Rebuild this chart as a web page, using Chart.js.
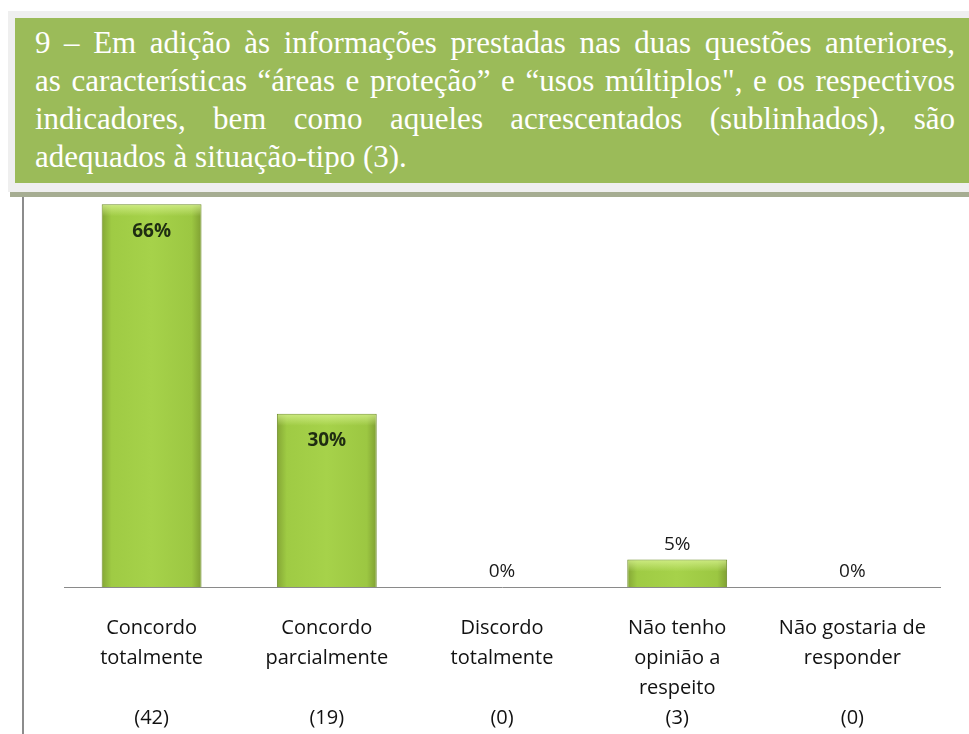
<!DOCTYPE html>
<html>
<head>
<meta charset="utf-8">
<script src="https://cdn.jsdelivr.net/npm/chart.js@4"></script>
<style>
  html, body { margin: 0; padding: 0; background: #fff; }
  body { width: 969px; height: 734px; position: relative; overflow: hidden; }
  #caixa { position: absolute; left: 8px; top: 11px; width: 980px; height: 181px; background: #efefef; }
  #verde { position: absolute; left: 15px; top: 18px; width: 980px; height: 165px; background: #9bbb59; }
  #faixa { position: absolute; left: 10px; top: 192px; width: 980px; height: 5px; background: #a6ad92; }
  #titulo { position: absolute; left: 35px; top: 24px; width: 920px; color: #fff;
    font-family: "Liberation Serif", "Times New Roman", serif; font-size: 31px; line-height: 38px; }
  #titulo span { display: block; text-align: justify; text-align-last: justify; white-space: nowrap; }
  #titulo span.ult { text-align-last: left; }
  #linha { position: absolute; left: 22px; top: 197px; width: 2px; height: 540px; background: #8c8c8c; }
  #grafico_wrap { position: absolute; left: 24px; top: 196px; width: 945px; height: 538px; }
</style>
</head>
<body>
<div id="caixa"></div>
<div id="verde"></div>
<div id="titulo">
  <span>9 – Em adição às informações prestadas nas duas questões anteriores,</span>
  <span>as características “áreas e proteção” e “usos múltiplos", e os respectivos</span>
  <span>indicadores, bem como aqueles acrescentados (sublinhados), são</span>
  <span class="ult">adequados à situação-tipo (3).</span>
</div>
<div id="faixa"></div>
<div id="linha"></div>
<div id="grafico_wrap"><canvas id="grafico"></canvas></div>

<script>
// datos del grafico
const CATEGORIAS = [
  ["Concordo", "totalmente"],
  ["Concordo", "parcialmente"],
  ["Discordo", "totalmente"],
  ["Não tenho", "opinião a", "respeito"],
  ["Não gostaria de", "responder"]
];
const RESPOSTAS = [42, 19, 0, 3, 0];
const PERCENTUAIS = [65.6, 29.7, 0, 4.7, 0];
const ROTULOS = ["66%", "30%", "0%", "5%", "0%"];

// etiquetas del eje: categoria + linea vacia + (n), siempre 4 lineas
const etiquetas = CATEGORIAS.map((c, i) => {
  const l = c.slice();
  while (l.length < 3) l.push("");
  l.push("(" + RESPOSTAS[i] + ")");
  return l;
});

const FONTE = "'Open Sans', Lato, sans-serif";

// degradado de cada barra (bordes oscuros, centro claro)
function corBarra(ctx) {
  const chart = ctx.chart;
  const x = chart.scales.x;
  if (!x || ctx.type !== "data") return "#9ec845";
  const cx = x.getPixelForValue(ctx.dataIndex);
  if (!isFinite(cx)) return "#9ec845";
  const w = 100;
  const g = chart.ctx.createLinearGradient(cx - w / 2, 0, cx + w / 2, 0);
  g.addColorStop(0, "#84a635");
  g.addColorStop(0.1, "#9fcb44");
  g.addColorStop(0.5, "#a6d24a");
  g.addColorStop(0.9, "#9cc742");
  g.addColorStop(1, "#7f9f32");
  return g;
}

// plugin para escribir los porcentajes
const rotulosPlugin = {
  id: "rotulos",
  afterDatasetsDraw(chart) {
    const ctx = chart.ctx;
    const meta = chart.getDatasetMeta(0);
    ctx.save();
    // brillo superior de las barras
    meta.data.forEach((bar) => {
      const h = bar.base - bar.y;
      if (h < 4) return;
      const g = ctx.createLinearGradient(0, bar.y, 0, bar.y + 12);
      g.addColorStop(0, "rgba(220,245,150,0.75)");
      g.addColorStop(1, "rgba(220,245,150,0)");
      ctx.fillStyle = g;
      ctx.fillRect(bar.x - 49, bar.y + 1, 98, Math.min(12, h - 2));
    });
    ctx.textAlign = "center";
    ctx.textBaseline = "middle";
    meta.data.forEach((bar, i) => {
      const v = PERCENTUAIS[i];
      if (v > 10) {
        ctx.font = "bold 19px " + FONTE;
        ctx.fillStyle = "#1f2d12";
        ctx.fillText(ROTULOS[i], bar.x, bar.y + 27);
      } else {
        ctx.font = "19px " + FONTE;
        ctx.fillStyle = "#1a1a1a";
        ctx.fillText(ROTULOS[i], bar.x, bar.y - 15);
      }
    });
    ctx.restore();
  }
};

new Chart(document.getElementById("grafico").getContext("2d"), {
  type: "bar",
  data: {
    labels: etiquetas,
    datasets: [{
      data: PERCENTUAIS,
      backgroundColor: corBarra,
      borderColor: "#6e8c2a",
      borderWidth: 1,
      categoryPercentage: 1,
      barPercentage: 0.57
    }]
  },
  options: {
    responsive: true,
    maintainAspectRatio: false,
    animation: false,
    layout: { padding: { left: 40, right: 29, top: 0, bottom: 0 } },
    plugins: { legend: { display: false }, tooltip: { enabled: false } },
    scales: {
      y: { display: false, min: 0, max: 67 },
      x: {
        grid: { display: false },
        border: { display: true, color: "#8a8a8a", width: 1 },
        ticks: {
          color: "#111",
          padding: 18,
          maxRotation: 0,
          autoSkip: false,
          font: { family: FONTE, size: 20, lineHeight: 1.5 }
        },
        afterFit(scale) { scale.height = 147; }
      }
    }
  },
  plugins: [rotulosPlugin]
});
</script>
</body>
</html>
